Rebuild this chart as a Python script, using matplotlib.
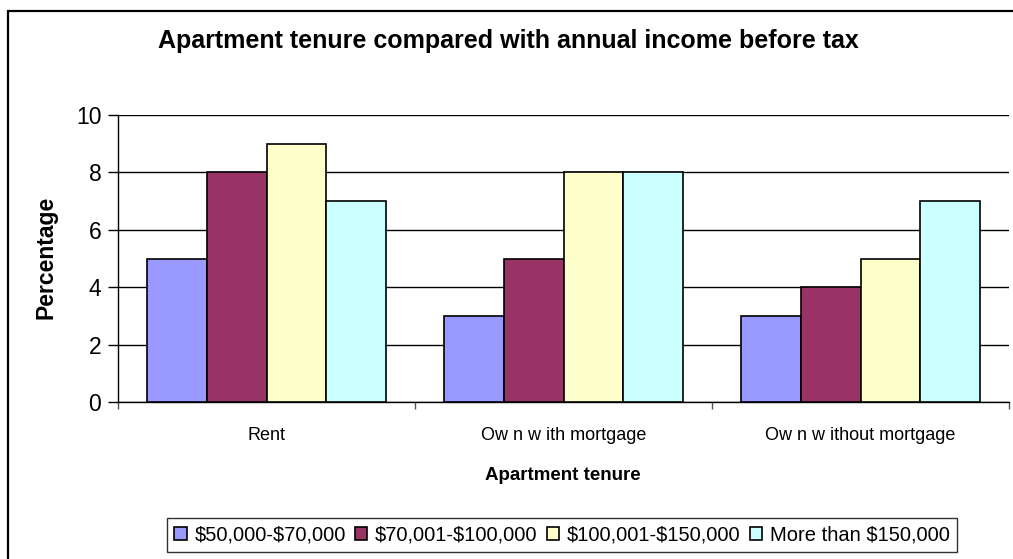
import matplotlib.pyplot as plt
import numpy as np
from matplotlib.patches import Rectangle

plt.rcParams['font.family'] = ['Liberation Sans', 'DejaVu Sans']

# dados do grafico
categorias = ['Rent', 'Ow n w ith mortgage', 'Ow n w ithout mortgage']
faixas = [r'\$50,000-\$70,000', r'\$70,001-\$100,000', r'\$100,001-\$150,000', r'More than \$150,000']
valores_50_70 = [5, 3, 3]
valores_70_100 = [8, 5, 4]
valores_100_150 = [9, 8, 5]
valores_mais_150 = [7, 8, 7]
cores = ['#9999FF', '#993366', '#FFFFCC', '#CCFFFF']

W, H = 1013, 559
fig = plt.figure(figsize=(W / 100, H / 100), dpi=100)
ax = fig.add_axes([118 / W, 1 - 402 / H, 891 / W, 287 / H])

# borda externa (cortada a direita e embaixo, como no original)
fig.patches.append(Rectangle((8 / W, -0.05), 1.2, 1 - 11 / H + 0.05,
                             transform=fig.transFigure, fill=False,
                             edgecolor='black', linewidth=1.6))

x = np.arange(len(categorias))
largura = 0.202
series = [valores_50_70, valores_70_100, valores_100_150, valores_mais_150]
for i, vals in enumerate(series):
    ax.bar(x + (i - 1.5) * largura, vals, largura, color=cores[i],
           edgecolor='black', linewidth=1.2, label=faixas[i], zorder=3)

ax.set_xlim(-0.5, 2.5)
ax.set_ylim(0, 10)
ax.set_yticks([0, 2, 4, 6, 8, 10])
ax.yaxis.grid(True, color='black', linewidth=1.0, zorder=0)
ax.tick_params(axis='y', labelsize=16.5, length=7, width=1, pad=5)

ax.set_xticks(x)
ax.set_xticklabels(categorias, fontsize=13)
ax.tick_params(axis='x', length=0, pad=18)
ax.set_xticks([-0.5, 0.5, 1.5, 2.5], minor=True)
ax.tick_params(axis='x', which='minor', length=5, width=1, color='#555555')

for s in ['top', 'right']:
    ax.spines[s].set_visible(False)
ax.spines['left'].set_linewidth(1.0)
ax.spines['bottom'].set_linewidth(1.0)

fig.text(508 / W, 1 - 41 / H, 'Apartment tenure compared with annual income before tax',
         ha='center', va='center', fontsize=18, fontweight='bold')
fig.text(563 / W, 1 - 475 / H, 'Apartment tenure', ha='center', va='center',
         fontsize=13.5, fontweight='bold')
fig.text(46 / W, 1 - 257 / H, 'Percentage', ha='center', va='center',
         fontsize=16.5, fontweight='bold', rotation=90)

leg = fig.legend(loc='center', bbox_to_anchor=(562 / W, 1 - 535 / H), ncol=4,
                 fontsize=14.5, frameon=True, fancybox=False, handlelength=0.6,
                 handleheight=0.6, handletextpad=0.4, columnspacing=0.45,
                 borderpad=0.35, borderaxespad=0)
leg.get_frame().set_edgecolor('black')
leg.get_frame().set_linewidth(1.0)

fig.savefig('out.png', dpi=100)
